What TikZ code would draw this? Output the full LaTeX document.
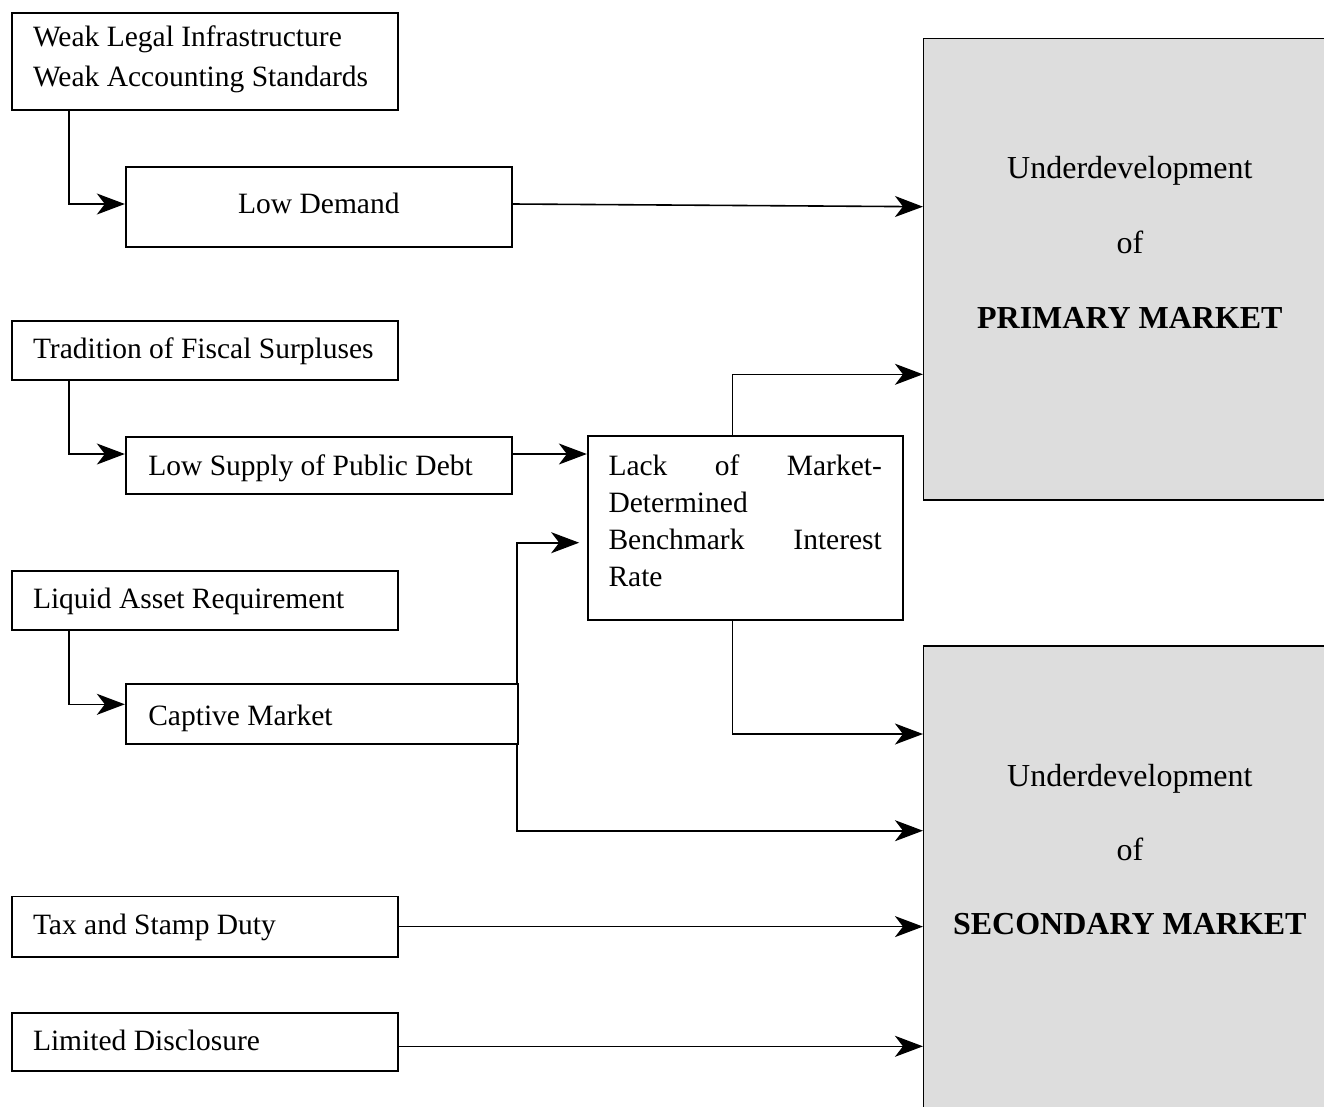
\documentclass[tikz,border=0pt]{standalone}
\usepackage{fontspec}
\setmainfont{Liberation Serif}
\usetikzlibrary{arrows.meta}
\definecolor{boxgray}{RGB}{221,221,221}
\newcommand{\boxtxt}[4]{\parbox[c][#1pt][t]{#2pt}{\raggedright\rule{0pt}{#3pt}#4}}
\newcommand{\boxctr}[4]{\parbox[c][#1pt][t]{#2pt}{\centering\rule{0pt}{#3pt}#4}}
\begin{document}
\begin{tikzpicture}[x=1pt,y=-1pt,
  box/.style={draw, line width=1.7pt, inner sep=0pt, font=\fontsize{29.5}{40}\selectfont},
  big/.style={draw, line width=1.5pt, fill=boxgray, inner sep=0pt, font=\fontsize{32}{75}\selectfont},
  arr/.style={line width=1.6pt, -{Stealth[length=28pt,width=21pt,inset=8pt]}}]
\clip (0,0) rectangle (1324,1106);
\fill[white] (0,0) rectangle (1324,1106);

% left column boxes
\node[box, minimum width=386.3pt, minimum height=97.3pt] (A) at (204.85,61.35)
  {\boxtxt{97.3}{343.7}{34}{Weak Legal Infrastructure\\Weak Accounting Standards}};
\node[box, minimum width=386.3pt, minimum height=80pt] (B) at (318.85,206.7)
  {\boxctr{80}{340}{46.3}{Low Demand}};
\node[box, minimum width=386.3pt, minimum height=59.3pt] (C) at (204.85,350.35)
  {\boxtxt{59.3}{343.7}{37.3}{Tradition of Fiscal Surpluses}};
\node[box, minimum width=386.3pt, minimum height=57.3pt] (D) at (318.85,465.35)
  {\boxtxt{57.3}{341.1}{38.3}{Low Supply of Public Debt}};
\node[box, minimum width=315pt, minimum height=184.3pt] (E) at (745.2,527.85)
  {\boxtxt{184.3}{273.4}{39.3}{\fontsize{29.5}{37.3}\selectfont Lack\hfill of\hfill Market-\\Determined\\Benchmark\hfill Interest\\Rate}};
\node[box, minimum width=386.3pt, minimum height=59.3pt] (F) at (204.85,600.35)
  {\boxtxt{59.3}{343.7}{37.3}{Liquid Asset Requirement}};
\node[box, minimum width=392pt, minimum height=60pt] (G) at (321.7,714.3)
  {\boxtxt{60}{346.8}{40.7}{Captive Market}};
\node[box, minimum width=386.3pt, minimum height=60.2pt] (H) at (204.85,926.6)
  {\boxtxt{60.2}{343.7}{37.5}{Tax and Stamp Duty}};
\node[box, minimum width=386.3pt, minimum height=58pt] (I) at (204.85,1041.7)
  {\boxtxt{58}{343.7}{38}{Limited Disclosure}};

% big grey boxes
\node[big, minimum width=412.3pt, minimum height=461.7pt] (P) at (1129.85,269.15)
  {\boxctr{461.7}{400}{140}{Underdevelopment\\of\\\textbf{PRIMARY MARKET}}};
\node[big, minimum width=412.3pt, minimum height=461.7pt] (S) at (1129.85,876.85)
  {\boxctr{461.7}{400}{140.7}{\fontsize{32}{74}\selectfont Underdevelopment\\of\\\textbf{SECONDARY MARKET}}};

% connectors
\coordinate (a1) at ([xshift=58.3pt]A.south west);
\coordinate (c1) at ([xshift=58.3pt]C.south west);
\coordinate (f1) at ([xshift=58.3pt]F.south west);
\coordinate (b1) at ([yshift=2.7pt]B.east);
\coordinate (d1) at ([yshift=11.35pt]D.east);
\coordinate (e1) at ([xshift=-12.9pt]E.north);
\coordinate (e2) at ([xshift=-12.9pt]E.south);
\coordinate (g1) at ([xshift=-1.7pt]G.north east);
\coordinate (g2) at ([xshift=-1.7pt]G.south east);
\coordinate (i1) at ([yshift=-4.6pt]I.east);

\draw[arr] (a1) |- ([yshift=2.7pt]B.west);
\draw[arr] (b1) -- ([yshift=62.45pt]P.west);
\draw[arr] (c1) |- ([yshift=11.35pt]D.west);
\draw[arr] (d1) -- (d1 -| E.west);
\draw[arr] (e1) |- ([yshift=-105.15pt]P.west);
\draw[arr] (e2) |- ([yshift=142.85pt]S.west);
\draw[arr] (g1) |- ([yshift=-14.85pt,xshift=-7.7pt]E.west);
\draw[arr] (g2) |- ([yshift=46.15pt]S.west);
\draw[arr] (f1) |- ([yshift=10pt]G.west);
\draw[arr] (H.east) -- (H.east -| S.west);
\draw[arr] (i1) -- (i1 -| S.west);
\end{tikzpicture}
\end{document}
